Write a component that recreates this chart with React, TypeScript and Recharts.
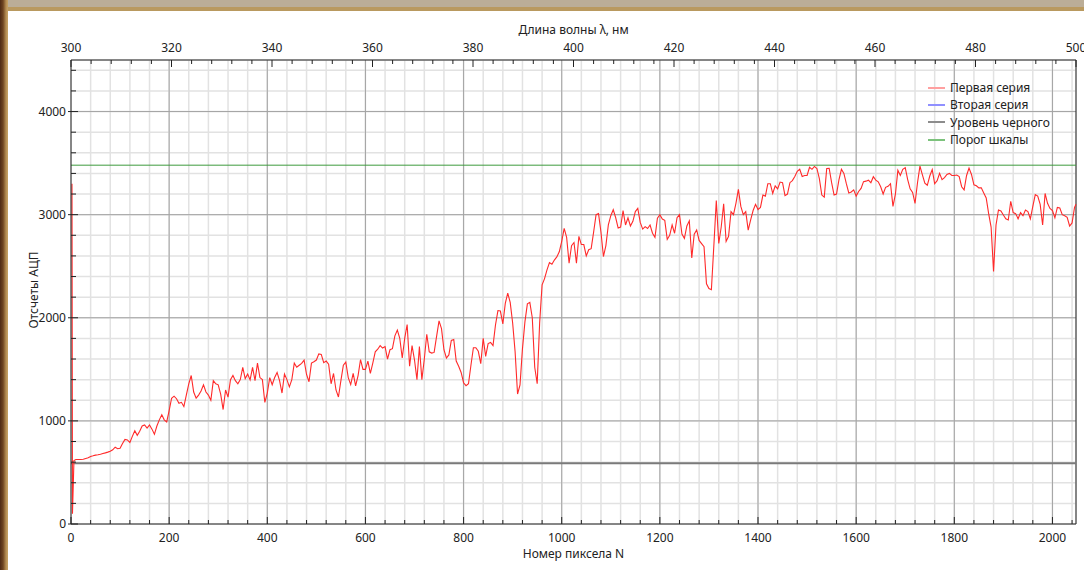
import { LineChart, Line, XAxis, YAxis, CartesianGrid, ReferenceLine, Legend } from 'recharts';

// pixel step of the sampled spectrum
const STEP = 5;

// start-up spike of the sensor (pixel, counts)
const startPixels = [2, 3, 6];
const startCounts = [3300, 100, 615];

// counts for pixels 10..495
const counts0 = [
  625, 626, 626, 628, 635, 642, 655, 661, 668, 672,
  677, 684, 690, 697, 706, 720, 745, 730, 735, 780,
  820, 815, 790, 850, 905, 860, 900, 950, 960, 930,
  960, 920, 870, 950, 1010, 1060, 1010, 990, 1100, 1220,
  1240, 1215, 1170, 1180, 1140, 1250, 1360, 1440, 1280, 1220,
  1250, 1290, 1350, 1280, 1250, 1200, 1390, 1360, 1350, 1260,
  1110, 1300, 1230, 1400, 1440, 1390, 1360, 1400, 1520, 1410,
  1455, 1397, 1519, 1390, 1560, 1420, 1400, 1180, 1270, 1420,
  1350, 1420, 1470, 1390, 1270, 1455, 1400, 1330, 1400, 1560,
  1520, 1540, 1558, 1590, 1450, 1380, 1560, 1574,
];
// pixels 500..995
const counts1 = [
  1590, 1650, 1645, 1565, 1580, 1550, 1360, 1460, 1300, 1232,
  1390, 1540, 1570, 1420, 1352, 1460, 1340, 1440, 1595, 1500,
  1500, 1580, 1460, 1560, 1670, 1695, 1730, 1706, 1720, 1600,
  1690, 1700, 1825, 1880, 1800, 1610, 1800, 1935, 1530, 1730,
  1590, 1400, 1720, 1400, 1600, 1840, 1670, 1658, 1664, 1820,
  1970, 1895, 1690, 1610, 1640, 1780, 1790, 1580, 1530, 1470,
  1370, 1342, 1360, 1540, 1710, 1710, 1675, 1555, 1800, 1626,
  1750, 1760, 1730, 1930, 2070, 2065, 1940, 2140, 2240, 2150,
  1950, 1670, 1260, 1350, 1700, 1960, 2135, 2150, 2000, 1520,
  1360, 1950, 2320, 2380, 2465, 2535, 2520, 2560, 2590, 2640,
];
// pixels 1000..1495
const counts2 = [
  2740, 2868, 2780, 2530, 2700, 2730, 2530, 2790, 2710, 2710,
  2600, 2660, 2670, 2830, 3000, 3010, 2830, 2594, 2700, 2900,
  2990, 3048, 2970, 2870, 2880, 3040, 2900, 2970, 2890, 2935,
  3030, 3061, 2925, 2860, 2884, 2866, 2900, 2820, 2780, 2965,
  3000, 2958, 2945, 2760, 2800, 2900, 2820, 2970, 3000, 2812,
  2770, 2890, 2940, 2580, 2810, 2852, 2750, 2720, 2690, 2330,
  2284, 2272, 2700, 3138, 2720, 2880, 3105, 2740, 2790, 3030,
  3000, 3110, 3245, 3080, 3000, 3030, 2850, 2950, 3040, 3100,
  3050, 3070, 3190, 3180, 3300, 3300, 3206, 3280, 3250, 3316,
  3310, 3185, 3200, 3310, 3330, 3370, 3420, 3440, 3370, 3380,
];
// pixels 1500..2045
const counts3 = [
  3380, 3460, 3440, 3468, 3448, 3350, 3190, 3170, 3448, 3450,
  3310, 3190, 3200, 3340, 3440, 3400, 3300, 3210, 3220, 3240,
  3180, 3225, 3255, 3320, 3325, 3335, 3310, 3368, 3335, 3319,
  3270, 3200, 3265, 3275, 3300, 3080, 3200, 3430, 3380, 3440,
  3455, 3340, 3250, 3215, 3110, 3310, 3470, 3385, 3305, 3285,
  3375, 3437, 3300, 3330, 3400, 3340, 3360, 3390, 3400, 3380,
  3380, 3385, 3370, 3271, 3240, 3380, 3452, 3390, 3290, 3280,
  3260, 3260, 3210, 3162, 3010, 2880, 2450, 2900, 3045, 3035,
  2997, 2960, 2948, 3130, 3020, 3010, 2960, 3020, 2990, 3045,
  3030, 2960, 3080, 3195, 3180, 3100, 2900, 3206, 3110, 3061,
  3040, 2970, 3070, 3065, 3000, 2990, 2975, 2890, 2920, 3070,
];
const segStarts = [10, 500, 1000, 1500];
const lastPixel = 2048;
const lastCount = 3100;

const blackLevel = 590;
const scaleLimit = 3480;

const pixelMajor = [0, 200, 400, 600, 800, 1000, 1200, 1400, 1600, 1800, 2000];
const countMajor = [0, 1000, 2000, 3000, 4000];

const pixelTicks = Array.from({ length: 52 }, (_, i) => i * 40);
const countTicks = Array.from({ length: 23 }, (_, i) => i * 200);
const waveTicks = Array.from({ length: 51 }, (_, i) => 300 + i * 4);
const waveRange = [300, 500];

const legendItems = [
  { name: 'Первая серия', color: '#ffa0a0' },
  { name: 'Вторая серия', color: '#9090ff' },
  { name: 'Уровень черного', color: '#8c8c8c' },
  { name: 'Порог шкалы', color: '#7cc27c' },
];

const rows = [
  ...startPixels.map((n, i) => ({ n, first: startCounts[i] })),
  ...[counts0, counts1, counts2, counts3].flatMap((seg, s) =>
    seg.map((v, i) => ({ n: segStarts[s] + i * STEP, first: v })),
  ),
  { n: lastPixel, first: lastCount },
];

const TXT = '#222';
const FONT = '"Noto Sans", sans-serif';

function PxTick(props: any) {
  const { x, y, payload } = props;
  const major = payload.value % 200 === 0;
  return (
    <g>
      <line x1={x} x2={x} y1={y} y2={y - (major ? 7 : 4)} stroke={TXT} />
      {major && (
        <text x={x} y={y + 18} textAnchor="middle" fontSize={12} fill={TXT} fontFamily={FONT}>
          {payload.value}
        </text>
      )}
    </g>
  );
}

function WaveTick(props: any) {
  const { x, y, payload } = props;
  const major = payload.value % 20 === 0;
  return (
    <g>
      <line x1={x} x2={x} y1={y} y2={y + (major ? 7 : 4)} stroke={TXT} />
      {major && (
        <text x={x} y={y - 8} textAnchor="middle" fontSize={12} fill={TXT} fontFamily={FONT}>
          {payload.value}
        </text>
      )}
    </g>
  );
}

function CountTick(props: any) {
  const { x, y, payload } = props;
  const major = payload.value % 1000 === 0;
  return (
    <g>
      <line x1={major ? x - 3 : x} x2={x + (major ? 7 : 5)} y1={y} y2={y} stroke={TXT} />
      {major && (
        <text x={x - 5} y={y + 4} textAnchor="end" fontSize={12} fill={TXT} fontFamily={FONT}>
          {payload.value}
        </text>
      )}
    </g>
  );
}

function LegendBox() {
  return (
    <div style={{ fontFamily: FONT, fontSize: 12, color: TXT }}>
      {legendItems.map((it) => (
        <div key={it.name} style={{ display: 'flex', alignItems: 'center', height: 17.3 }}>
          <span style={{ display: 'inline-block', width: 17, borderTop: `2px solid ${it.color}`, marginRight: 5 }} />
          <span>{it.name}</span>
        </div>
      ))}
    </div>
  );
}

export default function App() {
  return (
    <div style={{ position: 'fixed', left: 0, top: 0, width: 1084, height: 570, background: '#fff', overflow: 'hidden' }}>
      <LineChart width={1084} height={570} data={rows} margin={{ top: 20, right: 8, bottom: 0, left: 8 }}>
        <CartesianGrid xAxisId="px" yAxisId="cnt" stroke="#e2e2e2" strokeWidth={1.5} />
        {pixelMajor.slice(1).map((v) => (
          <ReferenceLine key={'gx' + v} xAxisId="px" yAxisId="cnt" x={v} stroke="#a3a3a3" />
        ))}
        {countMajor.slice(1).map((v) => (
          <ReferenceLine key={'gy' + v} xAxisId="px" yAxisId="cnt" y={v} stroke="#a3a3a3" />
        ))}
        <XAxis
          xAxisId="px"
          dataKey="n"
          type="number"
          domain={[0, 2048]}
          ticks={pixelTicks}
          interval={0}
          tick={<PxTick />}
          tickLine={false}
          tickSize={0}
          tickMargin={0}
          height={46}
          axisLine={{ stroke: TXT }}
          label={({ viewBox }: any) => (
            <text x={viewBox.x + viewBox.width / 2} y={viewBox.y + 34} textAnchor="middle" fontSize={12} fill={TXT} fontFamily={FONT}>
              Номер пиксела N
            </text>
          )}
        />
        <XAxis
          xAxisId="wl"
          dataKey="n"
          orientation="top"
          type="number"
          domain={waveRange}
          allowDataOverflow
          ticks={waveTicks}
          interval={0}
          tick={<WaveTick />}
          tickLine={false}
          tickSize={0}
          tickMargin={0}
          height={40}
          axisLine={{ stroke: TXT }}
          label={({ viewBox }: any) => (
            <text x={viewBox.x + viewBox.width / 2} y={viewBox.y + 14} textAnchor="middle" fontSize={12} fill={TXT} fontFamily={FONT}>
              Длина волны λ, нм
            </text>
          )}
        />
        <YAxis
          yAxisId="cnt"
          type="number"
          domain={[0, 4500]}
          ticks={countTicks}
          interval={0}
          tick={<CountTick />}
          tickLine={false}
          tickSize={0}
          tickMargin={0}
          width={63}
          axisLine={{ stroke: TXT }}
          label={({ viewBox }: any) => {
            const cx = viewBox.x + 25;
            const cy = viewBox.y + viewBox.height / 2 - 2;
            return (
              <text x={cx} y={cy} transform={`rotate(-90 ${cx} ${cy})`} textAnchor="middle" dominantBaseline="central" fontSize={12} fill={TXT} fontFamily={FONT}>
                Отсчеты АЦП
              </text>
            );
          }}
        />
        <ReferenceLine xAxisId="px" yAxisId="cnt" x={lastPixel} stroke={TXT} />
        <ReferenceLine xAxisId="px" yAxisId="cnt" y={blackLevel} stroke="#7a7a7a" strokeWidth={2} />
        <ReferenceLine xAxisId="px" yAxisId="cnt" y={scaleLimit} stroke="#3d9b3d" />
        {/* invisible carrier so the wavelength axis gets its scale */}
        <Line
          xAxisId="wl"
          yAxisId="cnt"
          dataKey="first"
          stroke="none"
          dot={false}
          activeDot={false}
          legendType="none"
          isAnimationActive={false}
        />
        <Line
          xAxisId="px"
          yAxisId="cnt"
          dataKey="first"
          stroke="#ff2a2a"
          strokeWidth={1.1}
          dot={false}
          isAnimationActive={false}
        />
        <Legend
          layout="vertical"
          align="center"
          verticalAlign="middle"
          wrapperStyle={{ left: 928, top: 79, width: 130 }}
          content={() => <LegendBox />}
        />
      </LineChart>
      <div style={{ position: 'absolute', left: 0, top: 0, width: 1084, height: 7, background: '#bbad97' }} />
      <div style={{ position: 'absolute', left: 0, top: 7, width: 1084, height: 4, background: '#b9995f' }} />
      <div
        style={{
          position: 'absolute',
          left: 0,
          top: 0,
          width: 8,
          height: 570,
          background: 'linear-gradient(to right, #4e2a14 0px, #6e4420 3px, #b48c52 6px, #c8a468 8px)',
        }}
      />
    </div>
  );
}
